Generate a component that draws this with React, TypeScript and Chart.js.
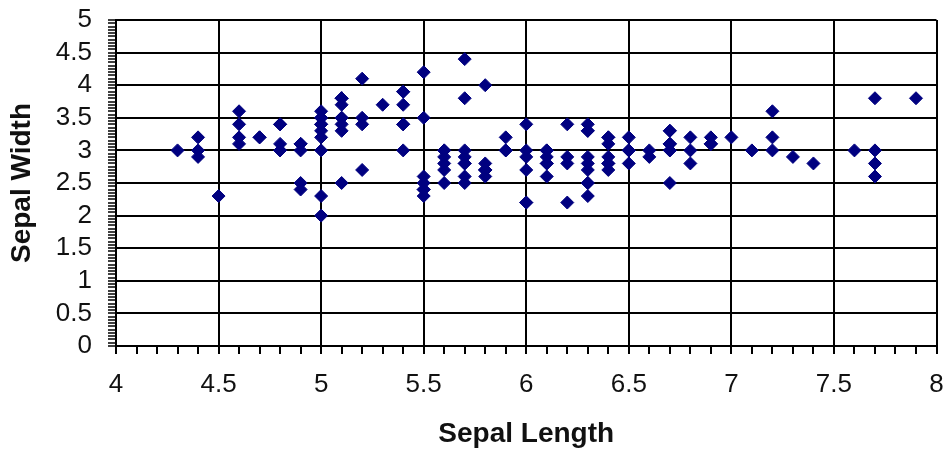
import React, { useEffect, useRef } from "react";
import { Chart, registerables } from "chart.js";

Chart.register(...registerables);

// Iris data: sepal length (cm) and sepal width (cm)
const sepalLength: number[] = [
  5.1, 4.9, 4.7, 4.6, 5.0, 5.4, 4.6, 5.0, 4.4, 4.9, 5.4, 4.8, 4.8, 4.3, 5.8, 5.7, 5.4, 5.1, 5.7, 5.1,
  5.4, 5.1, 4.6, 5.1, 4.8, 5.0, 5.0, 5.2, 5.2, 4.7, 4.8, 5.4, 5.2, 5.5, 4.9, 5.0, 5.5, 4.9, 4.4, 5.1,
  5.0, 4.5, 4.4, 5.0, 5.1, 4.8, 5.1, 4.6, 5.3, 5.0,
  7.0, 6.4, 6.9, 5.5, 6.5, 5.7, 6.3, 4.9, 6.6, 5.2, 5.0, 5.9, 6.0, 6.1, 5.6, 6.7, 5.6, 5.8, 6.2, 5.6,
  5.9, 6.1, 6.3, 6.1, 6.4, 6.6, 6.8, 6.7, 6.0, 5.7, 5.5, 5.5, 5.8, 6.0, 5.4, 6.0, 6.7, 6.3, 5.6, 5.5,
  5.5, 6.1, 5.8, 5.0, 5.6, 5.7, 5.7, 6.2, 5.1, 5.7,
  6.3, 5.8, 7.1, 6.3, 6.5, 7.6, 4.9, 7.3, 6.7, 7.2, 6.5, 6.4, 6.8, 5.7, 5.8, 6.4, 6.5, 7.7, 7.7, 6.0,
  6.9, 5.6, 7.7, 6.3, 6.7, 7.2, 6.2, 6.1, 6.4, 7.2, 7.4, 7.9, 6.4, 6.3, 6.1, 7.7, 6.3, 6.4, 6.0, 6.9,
  6.7, 6.9, 5.8, 6.8, 6.7, 6.7, 6.3, 6.5, 6.2, 5.9,
];

const sepalWidth: number[] = [
  3.5, 3.0, 3.2, 3.1, 3.6, 3.9, 3.4, 3.4, 2.9, 3.1, 3.7, 3.4, 3.0, 3.0, 4.0, 4.4, 3.9, 3.5, 3.8, 3.8,
  3.4, 3.7, 3.6, 3.3, 3.4, 3.0, 3.4, 3.5, 3.4, 3.2, 3.1, 3.4, 4.1, 4.2, 3.1, 3.2, 3.5, 3.1, 3.0, 3.4,
  3.5, 2.3, 3.2, 3.5, 3.8, 3.0, 3.8, 3.2, 3.7, 3.3,
  3.2, 3.2, 3.1, 2.3, 2.8, 2.8, 3.3, 2.4, 2.9, 2.7, 2.0, 3.0, 2.2, 2.9, 2.9, 3.1, 3.0, 2.7, 2.2, 2.5,
  3.2, 2.8, 2.5, 2.8, 2.9, 3.0, 2.8, 3.0, 2.9, 2.6, 2.4, 2.4, 2.7, 2.7, 3.0, 3.4, 3.1, 2.3, 3.0, 2.5,
  2.6, 3.0, 2.6, 2.3, 2.7, 3.0, 2.9, 2.9, 2.5, 2.8,
  3.3, 2.7, 3.0, 2.9, 3.0, 3.0, 2.5, 2.9, 2.5, 3.6, 3.2, 2.7, 3.0, 2.5, 2.8, 3.2, 3.0, 3.8, 2.6, 2.2,
  3.2, 2.8, 2.8, 2.7, 3.3, 3.2, 2.8, 3.0, 2.8, 3.0, 2.8, 3.8, 2.8, 2.8, 2.6, 3.0, 3.4, 3.1, 3.0, 3.1,
  3.1, 3.1, 2.7, 3.2, 3.3, 3.0, 2.5, 3.0, 3.4, 3.0,
];

const xTitle = "Sepal Length";
const yTitle = "Sepal Width";

const isMajor = (v: number) => Math.abs(v * 2 - Math.round(v * 2)) < 1e-6;
const fmt = (v: number) => {
  const r = Math.round(v * 100) / 100;
  return isMajor(r) ? String(Math.round(r * 10) / 10) : "";
};

export default function App() {
  const ref = useRef<HTMLCanvasElement | null>(null);

  useEffect(() => {
    document.body.style.margin = "0";
    if (!ref.current) return;
    const points = sepalLength.map((x, i) => ({ x, y: sepalWidth[i] }));
    const gridColor = (ctx: any) =>
      ctx.tick && isMajor(ctx.tick.value) ? "#000000" : "rgba(0,0,0,0)";
    const tickFont = { family: "'Liberation Sans', Arial, sans-serif", size: 26 };
    const titleFont = { family: "'Liberation Sans', Arial, sans-serif", size: 28, weight: "bold" as const };

    const chart = new Chart(ref.current, {
      type: "scatter",
      data: {
        datasets: [
          {
            data: points,
            pointStyle: "rectRot",
            pointRadius: 6.5,
            pointBackgroundColor: "#000080",
            pointBorderColor: "#000080",
            pointBorderWidth: 1,
          },
        ],
      },
      options: {
        animation: false,
        responsive: false,
        maintainAspectRatio: false,
        layout: { padding: { top: 20, right: 4, left: 0, bottom: 0 } },
        plugins: { legend: { display: false }, tooltip: { enabled: false } },
        scales: {
          x: {
            type: "linear",
            min: 4,
            max: 8,
            afterFit: (s: any) => {
              s.height = 107;
              s.paddingLeft = 0;
              s.paddingRight = 0;
            },
            ticks: {
              stepSize: 0.1,
              autoSkip: false,
              maxRotation: 0,
              minRotation: 0,
              padding: 15,
              color: "#111",
              font: tickFont,
              callback: (v: any) => fmt(Number(v)),
            },
            grid: {
              color: gridColor,
              tickColor: "#000",
              lineWidth: 2,
              tickWidth: 2,
              tickLength: 8,
            },
            border: { display: true, color: "#000", width: 2 },
            title: {
              display: true,
              text: xTitle,
              color: "#111",
              font: titleFont,
              padding: { top: 0, bottom: 2 },
            },
          },
          y: {
            type: "linear",
            min: 0,
            max: 5,
            afterFit: (s: any) => {
              s.width = 116;
              s.paddingTop = 0;
              s.paddingBottom = 0;
            },
            ticks: {
              stepSize: 0.05,
              autoSkip: false,
              padding: 16,
              color: "#111",
              font: tickFont,
              callback: (v: any) => fmt(Number(v)),
            },
            grid: {
              color: gridColor,
              tickColor: "#000",
              lineWidth: 2,
              tickWidth: 1.5,
              tickLength: 8,
            },
            border: { display: true, color: "#000", width: 2 },
            title: {
              display: true,
              text: yTitle,
              color: "#111",
              font: titleFont,
              padding: { top: 5, bottom: 0 },
            },
          },
        },
      },
    });
    return () => chart.destroy();
  }, []);

  return (
    <div style={{ width: 944, height: 453, background: "#fff" }}>
      <canvas ref={ref} width={944} height={453} style={{ display: "block", width: 944, height: 453 }} />
    </div>
  );
}
